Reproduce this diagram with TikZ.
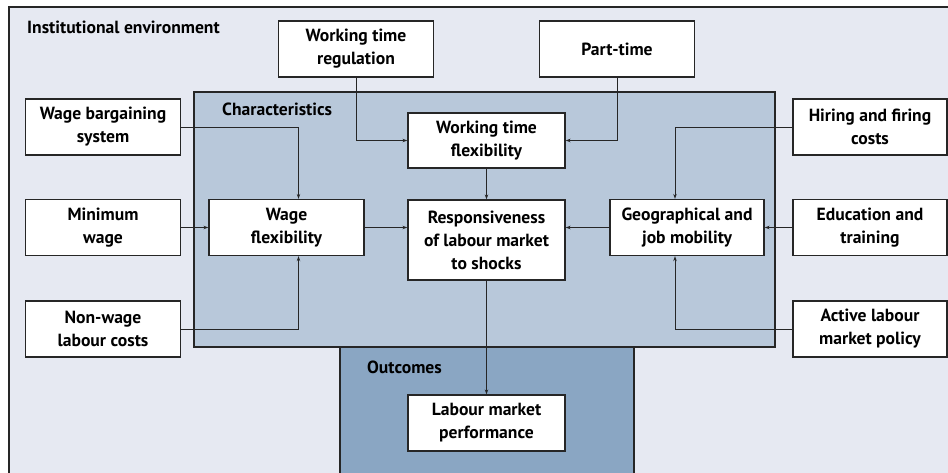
\documentclass[tikz,border=0pt]{standalone}
\usepackage{fontspec}
\setmainfont{PT Sans}
\usetikzlibrary{arrows.meta}
\definecolor{envbg}{HTML}{E6E9F2}
\definecolor{charbg}{HTML}{B8C8DA}
\definecolor{outbg}{HTML}{8AA6C3}
\begin{document}
\begin{tikzpicture}[x=1pt,y=-1pt,
  box/.style={draw=black!85, line width=1.3pt, fill=white, minimum width=155pt, minimum height=56pt, align=center, font=\bfseries\fontsize{17.6}{23}\selectfont, inner sep=0pt},
  lbl/.style={anchor=west, font=\bfseries\fontsize{17.6}{20}\selectfont, inner sep=0pt},
  conn/.style={draw=black!85, line width=1pt, -{Stealth[length=5pt,width=3.5pt]}},
  area/.style={draw=black!85, line width=1.3pt}]
\useasboundingbox (0,0) rectangle (948,472);
\begin{scope}
\clip (0,0) rectangle (948,472);
\draw[area, fill=envbg] (9,7) rectangle (960,490);
\draw[area, fill=outbg] (340,347) rectangle (634,490);
\draw[area, fill=charbg] (194,92) rectangle (775,347);
\end{scope}
\node[lbl] (ie) at (27,27) {Institutional environment};
\node[lbl] (ch) at (222,109) {Characteristics};
\node[lbl] (oc) at (367,367) {Outcomes};

\node[box] (wtr) at (356,49) {Working time\\regulation};
\node[box] (pt) at (617,49) {Part-time};
\node[box] (wbs) at (103,127) {Wage bargaining\\system};
\node[box, minimum width=157pt, minimum height=55pt] (wtf) at (486.5,140.5) {Working time\\flexibility};
\node[box, minimum width=154pt] (hf) at (870,127) {Hiring and firing\\costs};
\node[box] (mw) at (103,227.5) {Minimum\\wage};
\node[box] (wf) at (286.5,227.5) {Wage\\flexibility};
\node[box, minimum width=157pt, minimum height=80pt] (resp) at (486.5,240) {Responsiveness\\of labour market\\to shocks};
\node[box, minimum width=154pt] (geo) at (687,227.5) {Geographical and\\job mobility};
\node[box, minimum width=154pt] (edu) at (870,227.5) {Education and\\training};
\node[box] (nw) at (103,329) {Non-wage\\labour costs};
\node[box, minimum width=154pt] (al) at (870,329) {Active labour\\market policy};
\node[box, minimum width=157pt] (lmp) at (486.5,423) {Labour market\\performance};

\coordinate (wfn) at ([xshift=12pt]wf.north);
\coordinate (wfs) at ([xshift=12pt]wf.south);
\coordinate (geon) at ([xshift=-12pt]geo.north);
\coordinate (geos) at ([xshift=-12pt]geo.south);

\draw[conn] (wtr.south) |- (wtf.west);
\draw[conn] (pt.south) |- (wtf.east);
\draw[conn] (wbs.east) -| (wfn);
\draw[conn] (nw.east) -| (wfs);
\draw[conn] (mw.east) -- (wf.west);
\draw[conn] (wf.east) -- (wf.east -| resp.west);
\draw[conn] (wtf.south) -- (resp.north);
\draw[conn] (geo.west) -- (geo.west -| resp.east);
\draw[conn] (edu.west) -- (geo.east);
\draw[conn] (hf.west) -| (geon);
\draw[conn] (al.west) -| (geos);
\draw[conn] (resp.south) -- (lmp.north);
\end{tikzpicture}
\end{document}
